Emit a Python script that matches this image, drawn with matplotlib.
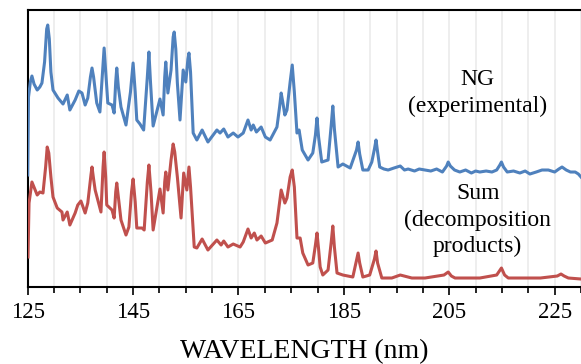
import matplotlib.pyplot as plt

plt.rcParams['font.family'] = ['Liberation Serif', 'DejaVu Serif']

# NG (experimental) spectrum (arbitrary intensity, offset included)
ng_wl = [125.0, 125.15, 125.5, 125.8, 126.2, 126.8, 127.3, 127.7, 128.2, 128.6, 128.8, 129.1,
         129.4, 129.8, 130.75, 131.7, 132.5, 133.0, 134.0, 134.7, 135.3, 135.9, 136.4, 136.9,
         137.2, 137.5, 138.1, 138.7, 139.2, 139.5, 139.8, 140.2, 141.0, 141.4, 141.7, 141.9,
         142.2, 142.7, 143.65, 144.5, 145.0, 145.4, 145.7, 146.3, 147.0, 147.7, 148.0, 148.3,
         148.8, 150.1, 150.7, 151.0, 151.2, 151.6, 152.2, 152.6, 152.8, 153.1, 153.4, 153.9,
         154.5, 155.0, 155.4, 155.6, 155.9, 156.4, 157.1, 158.1, 159.2, 160.9, 161.5, 162.2,
         163.0, 164.0, 164.9, 165.9, 166.8, 167.4, 167.8, 168.4, 169.3, 170.1, 171.0, 172.3,
         172.8, 173.1, 173.4, 173.8, 174.2, 174.8, 175.2, 175.6, 176.1, 176.5, 177.1, 178.2,
         179.1, 179.6, 179.9, 180.2, 180.8, 182.0, 182.6, 182.9, 183.2, 183.9, 184.8, 186.2,
         187.4, 187.7, 188.0, 188.6, 189.6, 190.3, 190.8, 191.1, 191.4, 191.8, 192.6, 193.4,
         194.5, 195.7, 196.5, 197.2, 198.4, 199.3, 200.4, 201.5, 202.6, 203.7, 204.5, 204.8,
         205.2, 206.0, 207.0, 208.1, 209.2, 210.0, 210.8, 212.0, 213.1, 214.0, 214.6, 214.9,
         215.3, 216.0, 217.2, 218.4, 219.4, 220.3, 221.5, 222.6, 223.8, 225.0, 225.8, 226.4,
         227.2, 228.0, 228.9, 229.5, 230.0]
ng_int = [112, 190, 205, 211, 203, 197, 200, 204, 225, 258, 262, 248,
          215, 197, 189, 183, 192, 177, 187, 196, 194, 182, 189, 210,
          219, 210, 184, 175, 215, 239, 215, 184, 182, 174, 205, 219,
          200, 180, 162, 195, 224, 195, 167, 163, 157, 210, 235, 205,
          161, 188, 172, 210, 225, 194, 217, 250, 255, 238, 204, 167,
          217, 205, 228, 234, 215, 154, 147, 157, 145, 157, 154, 158,
          150, 154, 150, 154, 167, 157, 162, 155, 160, 150, 147, 160,
          180, 194, 185, 172, 177, 205, 222, 195, 154, 157, 137, 127,
          134, 152, 169, 150, 125, 127, 162, 181, 158, 120, 123, 119,
          137, 145, 133, 117, 117, 125, 138, 147, 135, 120, 118, 117,
          119, 121, 117, 118, 116, 118, 117, 116, 118, 115, 121, 125,
          121, 117, 115, 117, 114, 116, 115, 116, 115, 117, 122, 125,
          120, 115, 116, 114, 116, 113, 115, 117, 117, 115, 118, 120,
          117, 115, 115, 113, 110]

# Sum of decomposition products
sum_wl = [125.05, 125.25, 125.8, 126.8, 127.3, 127.9, 128.4, 128.7, 129.0, 129.4, 129.8, 130.6,
          131.5, 131.7, 132.5, 133.0, 134.0, 134.5, 135.1, 135.9, 136.4, 137.0, 137.2, 137.5,
          137.8, 138.9, 139.3, 139.5, 139.8, 140.0, 141.0, 141.4, 141.7, 141.9, 142.2, 142.7,
          143.65, 144.2, 144.7, 145.0, 145.4, 145.7, 146.7, 147.1, 147.7, 148.0, 148.4, 148.8,
          150.1, 150.7, 151.0, 151.2, 151.6, 152.2, 152.6, 152.9, 153.4, 154.1, 154.6, 155.2,
          155.6, 155.9, 156.6, 157.1, 158.1, 159.2, 160.9, 161.7, 162.2, 163.0, 164.0, 165.3,
          165.9, 166.8, 167.4, 168.0, 168.5, 169.3, 170.1, 171.4, 172.3, 172.8, 173.1, 173.8,
          174.2, 174.8, 175.2, 175.6, 176.1, 176.7, 177.2, 178.2, 179.1, 179.6, 179.9, 180.2,
          180.5, 181.0, 182.0, 182.6, 182.9, 183.2, 183.7, 184.8, 186.7, 187.4, 187.7, 188.0,
          188.6, 189.9, 190.8, 191.1, 191.4, 192.2, 194.1, 195.7, 197.9, 200.4, 204.0, 204.8,
          205.4, 206.1, 210.8, 214.0, 214.9, 215.5, 216.2, 222.3, 225.5, 226.2, 226.8, 227.6,
          230.0]
sum_int = [30, 84, 105, 92, 95, 94, 120, 140, 134, 110, 90, 79,
           75, 67, 75, 62, 74, 82, 86, 74, 84, 112, 120, 108,
           97, 75, 120, 135, 110, 82, 77, 69, 95, 104, 90, 67,
           52, 60, 95, 108, 85, 59, 59, 57, 105, 122, 95, 57,
           98, 74, 105, 115, 97, 127, 143, 135, 110, 69, 114, 97,
           120, 100, 40, 39, 48, 37, 47, 42, 46, 40, 43, 40,
           45, 58, 49, 54, 47, 51, 44, 47, 64, 85, 97, 84,
           89, 110, 117, 100, 49, 49, 34, 22, 24, 42, 54, 38,
           20, 12, 17, 45, 61, 40, 14, 12, 10, 27, 34, 24,
           10, 12, 28, 36, 24, 9, 9, 12, 9, 9, 12, 15,
           11, 9, 9, 12, 19, 12, 9, 9, 11, 13, 11, 9,
           8]

major_ticks = [125, 145, 165, 185, 205, 225]
minor_ticks = list(range(125, 231, 5))

blue = '#4F81BD'
red = '#C0504D'

fig = plt.figure(figsize=(5.81, 3.64), dpi=100)
ax = fig.add_axes([0.0477, 0.2115, 0.9523, 0.761])

ax.plot(ng_wl, ng_int, color=blue, linewidth=2.2, zorder=3)
ax.plot(sum_wl, sum_int, color=red, linewidth=2.2, zorder=3)

ax.set_xlim(125, 230)
ax.set_ylim(0, 277)
ax.set_xticks(major_ticks)
ax.set_xticks(minor_ticks, minor=True)
ax.set_yticks([])
ax.grid(which='both', axis='x', color='#ebebeb', linewidth=1.2, zorder=0)
ax.tick_params(axis='x', which='major', length=6, width=1.2, labelsize=16.5, pad=5)
ax.tick_params(axis='x', which='minor', length=4, width=1.2)
for side in ['left', 'bottom', 'top']:
    ax.spines[side].set_linewidth(1.5)
ax.spines['right'].set_visible(False)

ax.set_xlabel('WAVELENGTH (nm)', fontsize=20, labelpad=11.5)

ax.text(210.4, 194, 'NG\n(experimental)', ha='center', va='center', fontsize=17, linespacing=1.3)
ax.text(210.4, 67, 'Sum\n(decomposition\nproducts)', ha='center', va='center', fontsize=17, linespacing=1.3)

fig.savefig('out.png', dpi=100)
